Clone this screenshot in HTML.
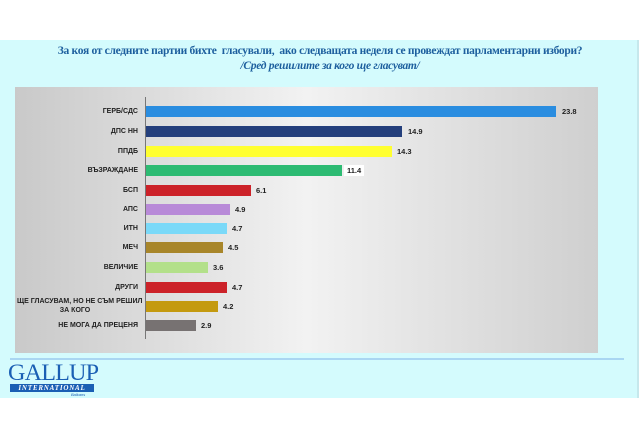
<!DOCTYPE html>
<html><head><meta charset="utf-8"><style>
body{margin:0;width:640px;height:439px;background:#fff;position:relative;overflow:hidden;font-family:"Liberation Sans","DejaVu Sans",sans-serif}
.bg{position:absolute;left:0;top:40px;width:637px;height:358px;background:#d4fbfd;border-right:2px solid #c6e8ec}
.t{position:absolute;left:0;width:640px;text-align:center;color:#1d5f9e;font-family:"Liberation Serif",serif;font-weight:bold;font-size:11.5px;letter-spacing:-0.3px}
.panel{position:absolute;left:15px;top:87px;width:583px;height:266px;background:linear-gradient(90deg,#c9c9c9 0%,#f2f2f2 50%,#cfcfcf 100%)}
.axis{position:absolute;left:145px;top:97px;width:1px;height:242px;background:#777}
.b{position:absolute;left:146px;height:11px}
.l{position:absolute;right:502px;font-size:7px;font-weight:bold;color:#222;text-align:right;line-height:9px}
.v{position:absolute;font-size:7.5px;font-weight:bold;color:#222;line-height:9px}
.hl{position:absolute;left:10px;top:358px;width:614px;height:2px;background:#a9d6f2}
</style></head><body>
<div class="bg"></div>
<div class="t" style="top:45px">За коя от следните партии бихте &nbsp;гласували, &nbsp;ако следващата неделя се провеждат парламентарни избори?</div>
<div class="t" style="top:60px;font-style:italic;left:10px">/Сред решилите за кого ще гласуват/</div>
<div class="panel"></div>
<div class="axis"></div>

<div class="b" style="top:106px;width:410px;background:#2a8de0"></div><div class="l" style="top:107px">ГЕРБ/СДС</div><div class="v" style="top:107px;left:562px">23.8</div>
<div class="b" style="top:126px;width:256px;background:#243f7c"></div><div class="l" style="top:127px">ДПС НН</div><div class="v" style="top:127px;left:408px">14.9</div>
<div class="b" style="top:146px;width:246px;background:#ffff30"></div><div class="l" style="top:147px">ППДБ</div><div class="v" style="top:147px;left:397px">14.3</div>
<div class="b" style="top:165px;width:196px;background:#2dbb73"></div><div class="l" style="top:166px">ВЪЗРАЖДАНЕ</div><div class="v" style="top:165px;left:344px;background:#fff;padding:1px 3px">11.4</div>
<div class="b" style="top:185px;width:105px;background:#cc2229"></div><div class="l" style="top:186px">БСП</div><div class="v" style="top:186px;left:256px">6.1</div>
<div class="b" style="top:204px;width:84px;background:#b88ad8"></div><div class="l" style="top:205px">АПС</div><div class="v" style="top:205px;left:235px">4.9</div>
<div class="b" style="top:223px;width:81px;background:#7ad9f8"></div><div class="l" style="top:224px">ИТН</div><div class="v" style="top:224px;left:232px">4.7</div>
<div class="b" style="top:242px;width:77px;background:#a8862a"></div><div class="l" style="top:243px">МЕЧ</div><div class="v" style="top:243px;left:228px">4.5</div>
<div class="b" style="top:262px;width:62px;background:#b3e08a"></div><div class="l" style="top:263px">ВЕЛИЧИЕ</div><div class="v" style="top:263px;left:213px">3.6</div>
<div class="b" style="top:282px;width:81px;background:#cc2229"></div><div class="l" style="top:283px">ДРУГИ</div><div class="v" style="top:283px;left:232px">4.7</div>
<div class="b" style="top:301px;width:72px;background:#c49a10"></div><div class="l" style="top:297px;width:130px;text-align:left;left:17px;right:auto">ЩЕ ГЛАСУВАМ, НО НЕ СЪМ РЕШИЛ<br>&nbsp;&nbsp;&nbsp;&nbsp;&nbsp;&nbsp;&nbsp;&nbsp;&nbsp;&nbsp;&nbsp;&nbsp;&nbsp;&nbsp;&nbsp;&nbsp;&nbsp;&nbsp;&nbsp;&nbsp;&nbsp;&nbsp;ЗА КОГО</div><div class="v" style="top:302px;left:223px">4.2</div>
<div class="b" style="top:320px;width:50px;background:#777272"></div><div class="l" style="top:321px">НЕ МОГА ДА ПРЕЦЕНЯ</div><div class="v" style="top:321px;left:201px">2.9</div>

<div class="hl"></div>
<div style="position:absolute;left:8px;top:363px;font-family:'Liberation Serif',serif;font-size:23px;color:#1a5fb4;line-height:20px;letter-spacing:-0.8px;transform:scaleX(1.05);transform-origin:left">GALLUP</div>
<div style="position:absolute;left:10px;top:384px;width:84px;height:8px;background:#1a5fb4;color:#fff;font-family:'Liberation Serif',serif;font-style:italic;font-weight:bold;font-size:7px;line-height:8px;text-align:center;letter-spacing:0.8px">INTERNATIONAL</div>
<div style="position:absolute;left:71px;top:392px;font-size:4px;color:#1a5fb4;font-style:italic">Balkans</div>
</body></html>
